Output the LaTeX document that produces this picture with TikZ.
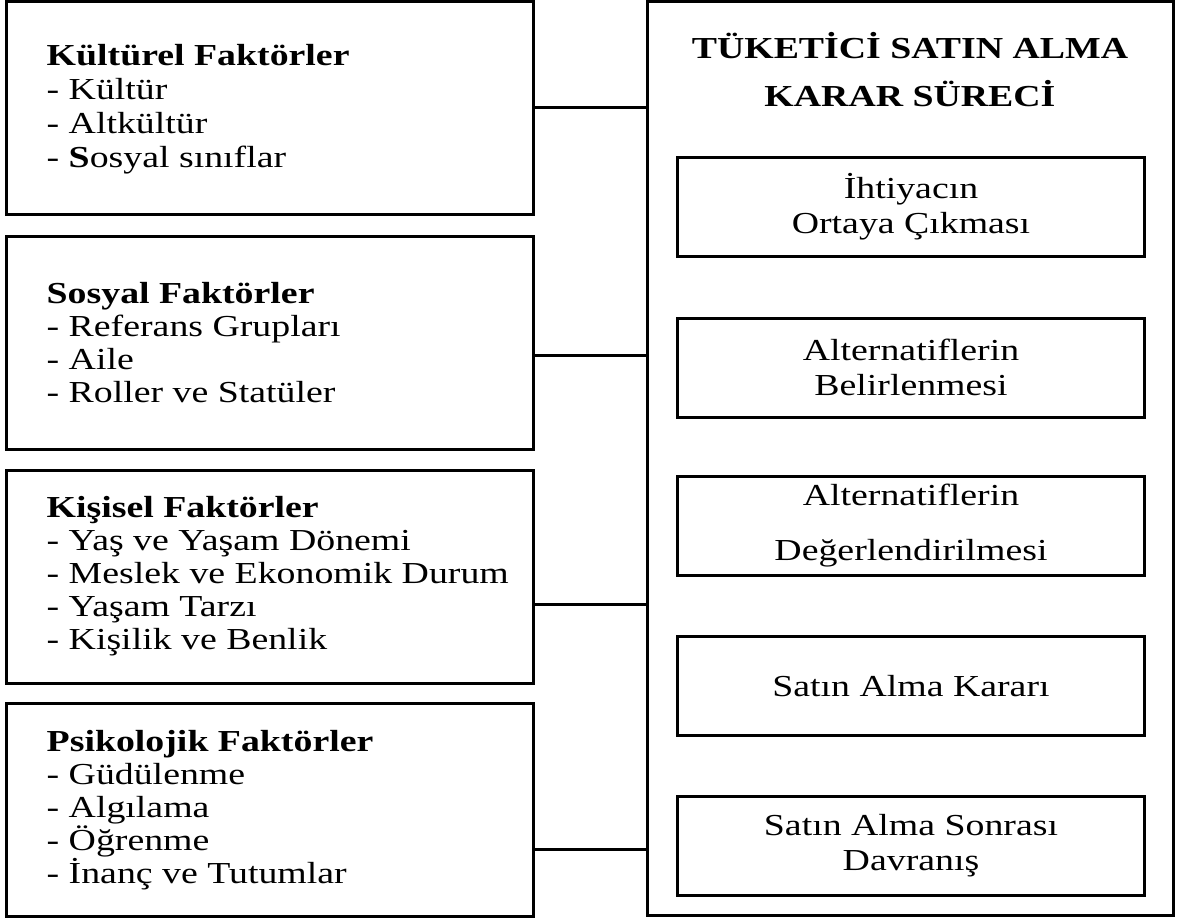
\documentclass[tikz,border=0pt]{standalone}
\usepackage{fontspec}
\setmainfont[FakeStretch=1.24]{Liberation Serif}

\begin{document}
\begin{tikzpicture}
[x=1pt,y=-1pt,%
  boxDecorate/.style={shape=rectangle,draw,line width=3pt,inner sep=0pt},
  factorDecorate/.style={boxDecorate,minimum width=527pt,minimum height=213pt},
  textDecorate/.style={anchor=west,align=left,inner sep=0pt,font=\fontsize{30.5}{33}\selectfont},
  stageDecorate/.style={boxDecorate,minimum width=467pt,minimum height=99pt,align=center,font=\fontsize{30.5}{35}\selectfont},
  lineDecorate/.style={-,line width=3pt}]
\fill[white] (0,0) rectangle (1180,923);
\useasboundingbox (0,0) rectangle (1180,923);
%% factor boxes
\foreach \nodename/\y in {k1/108, k2/342.5, k3/576.5, k4/810}
{
  \node (\nodename) at (269.5,\y) [factorDecorate] {};
}
\node (t1) at ([xshift=42pt,yshift=-1.5pt]k1.west) [textDecorate,font=\fontsize{30.5}{34}\selectfont]
  {\textbf{Kültürel Faktörler}\\- Kültür\\- Altkültür\\- \textbf{S}osyal sınıflar};
\node (t2) at ([xshift=42pt]k2.west) [textDecorate]
  {\textbf{Sosyal Faktörler}\\- Referans Grupları\\- Aile\\- Roller ve Statüler};
\node (t3) at ([xshift=42pt]k3.west) [textDecorate]
  {\textbf{Kişisel Faktörler}\\- Yaş ve Yaşam Dönemi\\- Meslek ve Ekonomik Durum\\- Yaşam Tarzı\\- Kişilik ve Benlik};
\node (t4) at ([xshift=42pt]k4.west) [textDecorate]
  {\textbf{Psikolojik Faktörler}\\- Güdülenme\\- Algılama\\- Öğrenme\\- İnanç ve Tutumlar};
%% decision process
\node (karar) at (910,458.5) [boxDecorate,minimum width=526pt,minimum height=913pt] {};
\node (title) at (910,70) [align=center,font=\fontsize{30.5}{48}\selectfont\bfseries]
  {TÜKETİCİ SATIN ALMA\\KARAR SÜRECİ};
\node (s1) at (911,206.5) [stageDecorate] {İhtiyacın\\Ortaya Çıkması};
\node (s2) at (911,367.5) [stageDecorate] {Alternatiflerin\\Belirlenmesi};
\node (s3) at (911,526) [stageDecorate] {Alternatiflerin\\[20pt]Değerlendirilmesi};
\node (s4) at (911,686) [stageDecorate] {Satın Alma Kararı};
\node (s5) at (911,845.5) [stageDecorate] {Satın Alma Sonrası\\Davranış};
%% connectors
\path
\foreach \startnode/\cy in {k1/108, k2/355, k3/604, k4/849}
{
  (\startnode.east |- 0,\cy) edge[lineDecorate] (karar.west |- 0,\cy)
};
\end{tikzpicture}
\end{document}
